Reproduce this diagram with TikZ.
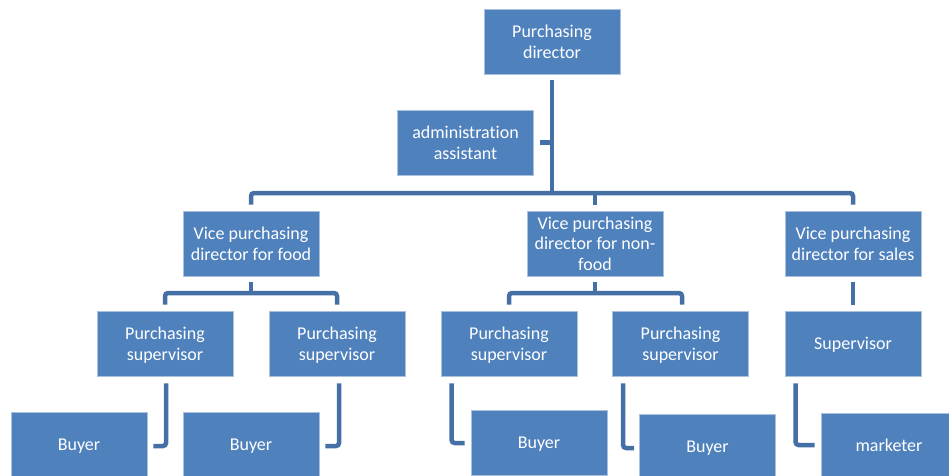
\documentclass[tikz,border=0pt]{standalone}
\usepackage{fontspec}
\setmainfont[Ligatures=NoCommon]{Carlito}
\usetikzlibrary{calc}
\definecolor{boxfill}{HTML}{4F81BD}
\definecolor{boxedge}{HTML}{A9C0DE}
\definecolor{linkcol}{HTML}{4470A5}
\begin{document}
\begin{tikzpicture}[x=1pt,y=-1pt,
  orgbox/.style={rectangle, fill=boxfill, draw=boxedge, line width=0.8pt,
    minimum width=136pt, minimum height=65pt, inner sep=0pt, text depth=0pt,
    text=white, align=center, font=\fontsize{18}{20.5}\selectfont},
  conn/.style={draw=linkcol, line width=4.5pt, rounded corners=3pt}]
\useasboundingbox (0,0) rectangle (949,475);

% top level
\node[orgbox] (pd)    at (552,41.5)  {Purchasing\\director};
\node[orgbox] (admin) at (465.5,142.5) {administration\\assistant};

% vice directors
\node[orgbox] (food)    at (251,243.5) {Vice purchasing\\director for food};
\node[orgbox] (nonfood) at (595,243.5) {Vice purchasing\\director for non-\\food};
\node[orgbox] (sales)   at (853,243.5) {Vice purchasing\\director for sales};

% supervisors
\node[orgbox] (ps1) at (165,343.5) {Purchasing\\supervisor};
\node[orgbox] (ps2) at (337,343.5) {Purchasing\\supervisor};
\node[orgbox] (ps3) at (509,343.5) {Purchasing\\supervisor};
\node[orgbox] (ps4) at (680.5,343.5) {Purchasing\\supervisor};
\node[orgbox] (sup) at (853,343.5) {Supervisor};

% bottom row
\node[orgbox] (b1) at (79,444.5)  {Buyer};
\node[orgbox] (b2) at (251,444.5) {Buyer};
\node[orgbox] (b3) at (539,442.5) {Buyer};
\node[orgbox] (b4) at (707.5,446.5) {Buyer};
\node[orgbox] (mk) at (889,445.5) {marketer};

% director trunk and assistant
\draw[conn] ([yshift=-6pt]pd.south) -- (pd.south |- 0,193);
\draw[conn] ([xshift=6pt]admin.east) -- (pd.south |- admin.east);

% main bus to vice directors
\draw[conn] ([yshift=6pt]food.north) -- (food.north |- 0,193)
  -- (sales.north |- 0,193) -- ([yshift=6pt]sales.north);
\draw[conn] (nonfood.north |- 0,193) -- ([yshift=6pt]nonfood.north);

% food branch
\draw[conn] ([yshift=-6pt]food.south) -- (food.south |- 0,293);
\draw[conn] ([yshift=6pt]ps1.north) -- (ps1.north |- 0,293)
  -- (ps2.north |- 0,293) -- ([yshift=6pt]ps2.north);

% non-food branch
\draw[conn] ([yshift=-6pt]nonfood.south) -- (nonfood.south |- 0,293);
\draw[conn] ([yshift=6pt]ps3.north) -- (ps3.north |- 0,293)
  -- ($(ps4.north |- 0,293)+(1.5,0)$) -- ([xshift=1.5pt,yshift=6pt]ps4.north);

% sales branch
\draw[conn] ([yshift=-6pt]sales.south) -- ([yshift=6pt]sup.north);

% buyers and marketer
\draw[conn] ([xshift=1pt,yshift=-7pt]ps1.south) |- ([xshift=6pt,yshift=-1.5pt]b1.east);
\draw[conn] ([xshift=2pt,yshift=-7pt]ps2.south) |- ([xshift=6pt,yshift=-1.5pt]b2.east);
\draw[conn] ([xshift=11pt,yshift=-7pt]ps3.south west) |- ([xshift=-6pt,yshift=-0.5pt]b3.west);
\draw[conn] ([xshift=11pt,yshift=-7pt]ps4.south west) |- ([xshift=-5pt,yshift=-1.5pt]b4.west);
\draw[conn] ([xshift=11pt,yshift=-7pt]sup.south west) |- ([xshift=-6pt,yshift=0.5pt]mk.west);
\end{tikzpicture}
\end{document}
